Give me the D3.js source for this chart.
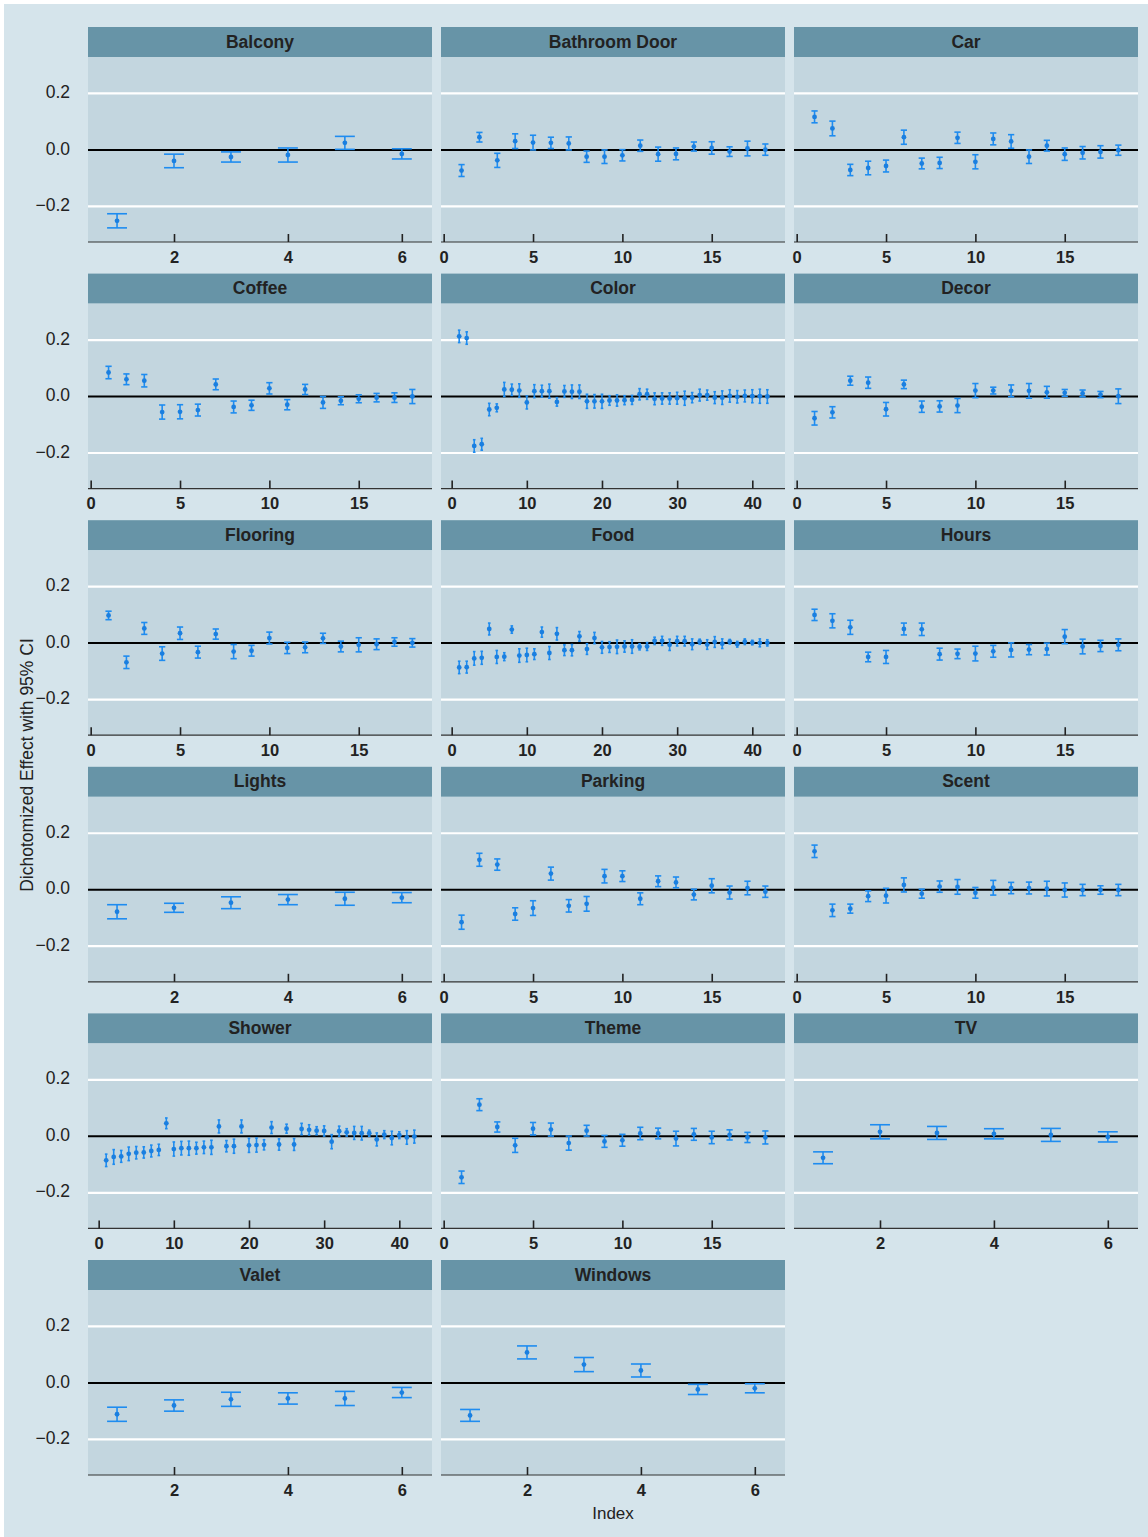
<!DOCTYPE html>
<html>
<head>
<meta charset="utf-8">
<script src="https://cdn.jsdelivr.net/npm/d3@7"></script>
<style>
  body { margin: 0; background: #ffffff; }
  svg { display: block; }
</style>
</head>
<body>
<svg id="chart" width="1148" height="1537"></svg>
<script>
// Dichotomized effect estimates (point) and 95% CI half-widths per attribute
const balconyEffect = [-0.251, -0.039, -0.025, -0.018, 0.025, -0.014];
const balconyHalfCI = [0.025, 0.024, 0.018, 0.025, 0.023, 0.018];

const bathroomEffect = [-0.073, 0.045, -0.037, 0.031, 0.026, 0.025, 0.023, -0.024, -0.024, -0.019, 0.015, -0.015, -0.014, 0.012, 0.007, -0.006, 0.005, 0.001];
const bathroomHalfCI = [0.021, 0.017, 0.025, 0.026, 0.026, 0.020, 0.023, 0.020, 0.024, 0.020, 0.020, 0.025, 0.021, 0.016, 0.022, 0.017, 0.026, 0.020];

const carEffect = [0.117, 0.076, -0.071, -0.064, -0.057, 0.045, -0.048, -0.046, 0.043, -0.042, 0.039, 0.030, -0.024, 0.015, -0.015, -0.010, -0.007, -0.001];
const carHalfCI = [0.021, 0.026, 0.020, 0.024, 0.021, 0.025, 0.019, 0.020, 0.020, 0.025, 0.021, 0.024, 0.024, 0.019, 0.022, 0.022, 0.022, 0.018];

const coffeeEffect = [0.085, 0.061, 0.056, -0.055, -0.054, -0.048, 0.043, -0.037, -0.031, 0.029, -0.029, 0.025, -0.021, -0.015, -0.008, -0.004, -0.004, 0.000];
const coffeeHalfCI = [0.022, 0.019, 0.022, 0.025, 0.025, 0.021, 0.019, 0.021, 0.018, 0.020, 0.018, 0.018, 0.021, 0.014, 0.014, 0.015, 0.017, 0.025];

const colorEffect = [0.213, 0.207, -0.175, -0.169, -0.046, -0.040, 0.025, 0.024, 0.021, -0.021, 0.019, 0.019, 0.019, -0.019, 0.018, 0.017, 0.017, -0.017, -0.017, -0.017, -0.014, -0.014, -0.013, -0.012, 0.008, 0.008, -0.008, -0.007, -0.007, -0.006, -0.006, -0.004, 0.005, 0.005, -0.004, -0.004, 0.002, -0.001, 0.002, 0.001, 0.001, 0.000];
const colorHalfCI = [0.022, 0.022, 0.022, 0.021, 0.022, 0.014, 0.025, 0.020, 0.024, 0.023, 0.023, 0.021, 0.025, 0.015, 0.021, 0.024, 0.024, 0.025, 0.024, 0.025, 0.017, 0.020, 0.016, 0.016, 0.020, 0.018, 0.021, 0.020, 0.020, 0.021, 0.025, 0.018, 0.021, 0.018, 0.021, 0.024, 0.022, 0.022, 0.021, 0.023, 0.025, 0.024];

const decorEffect = [-0.077, -0.056, 0.056, 0.049, -0.045, 0.043, -0.036, -0.035, -0.032, 0.021, 0.021, 0.020, 0.020, 0.015, 0.013, 0.011, 0.007, 0.001];
const decorHalfCI = [0.024, 0.020, 0.016, 0.020, 0.024, 0.015, 0.020, 0.020, 0.025, 0.025, 0.012, 0.021, 0.026, 0.021, 0.012, 0.012, 0.011, 0.026];

const flooringEffect = [0.098, -0.068, 0.052, -0.037, 0.035, -0.032, 0.032, -0.030, -0.027, 0.018, -0.017, -0.015, 0.017, -0.012, -0.006, -0.004, 0.004, 0.001];
const flooringHalfCI = [0.015, 0.022, 0.021, 0.024, 0.022, 0.021, 0.018, 0.025, 0.019, 0.021, 0.020, 0.019, 0.018, 0.019, 0.025, 0.019, 0.015, 0.015];

const foodEffect = [-0.086, -0.085, -0.054, -0.052, 0.050, -0.049, -0.048, 0.048, -0.044, -0.042, -0.039, 0.039, -0.035, 0.033, -0.025, -0.025, 0.024, -0.021, 0.018, -0.015, -0.014, -0.013, -0.012, -0.012, -0.013, -0.012, 0.008, 0.008, -0.006, 0.007, 0.007, -0.004, 0.005, -0.005, 0.004, -0.002, 0.005, -0.004, 0.005, 0.002, 0.001, 0.001];
const foodHalfCI = [0.022, 0.021, 0.024, 0.023, 0.021, 0.023, 0.014, 0.013, 0.024, 0.024, 0.019, 0.018, 0.023, 0.022, 0.019, 0.020, 0.017, 0.019, 0.020, 0.021, 0.019, 0.024, 0.020, 0.024, 0.011, 0.014, 0.013, 0.016, 0.020, 0.017, 0.017, 0.019, 0.009, 0.017, 0.019, 0.017, 0.008, 0.010, 0.010, 0.008, 0.014, 0.011];

const hoursEffect = [0.100, 0.079, 0.056, -0.049, -0.049, 0.050, 0.049, -0.039, -0.038, -0.037, -0.029, -0.024, -0.023, -0.021, 0.023, -0.012, -0.010, -0.006];
const hoursHalfCI = [0.020, 0.025, 0.025, 0.017, 0.023, 0.021, 0.022, 0.021, 0.017, 0.026, 0.021, 0.025, 0.018, 0.021, 0.025, 0.026, 0.020, 0.021];

const lightsEffect = [-0.078, -0.064, -0.046, -0.035, -0.032, -0.028];
const lightsHalfCI = [0.025, 0.016, 0.021, 0.018, 0.023, 0.018];

const parkingEffect = [-0.115, 0.106, 0.089, -0.086, -0.065, 0.057, -0.057, -0.050, 0.048, 0.048, -0.032, 0.030, 0.026, -0.017, 0.014, -0.010, 0.006, -0.007];
const parkingHalfCI = [0.025, 0.023, 0.020, 0.022, 0.026, 0.023, 0.022, 0.026, 0.024, 0.019, 0.021, 0.019, 0.019, 0.019, 0.025, 0.023, 0.024, 0.020];

const scentEffect = [0.136, -0.073, -0.067, -0.023, -0.021, 0.017, -0.014, 0.011, 0.010, -0.011, 0.007, 0.006, 0.006, 0.004, -0.001, -0.001, -0.001, -0.001];
const scentHalfCI = [0.022, 0.022, 0.016, 0.019, 0.026, 0.025, 0.016, 0.020, 0.026, 0.019, 0.026, 0.020, 0.021, 0.026, 0.025, 0.020, 0.015, 0.020];

const showerEffect = [-0.085, -0.073, -0.071, -0.062, -0.058, -0.057, -0.052, -0.048, 0.046, -0.045, -0.042, -0.042, -0.042, -0.039, -0.039, 0.035, -0.035, -0.035, 0.035, -0.032, -0.031, -0.030, 0.031, -0.029, 0.027, -0.029, 0.026, 0.023, 0.020, 0.019, -0.019, 0.018, 0.014, 0.012, 0.011, 0.011, -0.011, 0.006, -0.006, 0.004, -0.004, -0.001];
const showerHalfCI = [0.022, 0.026, 0.021, 0.024, 0.022, 0.020, 0.021, 0.020, 0.019, 0.025, 0.024, 0.025, 0.021, 0.022, 0.025, 0.023, 0.020, 0.025, 0.023, 0.025, 0.025, 0.018, 0.021, 0.020, 0.016, 0.021, 0.020, 0.018, 0.014, 0.018, 0.025, 0.018, 0.013, 0.023, 0.024, 0.011, 0.023, 0.014, 0.024, 0.012, 0.024, 0.023];

const themeEffect = [-0.145, 0.112, 0.033, -0.032, 0.027, 0.024, -0.024, 0.020, -0.018, -0.014, 0.010, 0.010, -0.008, 0.007, -0.004, 0.005, -0.004, -0.004];
const themeHalfCI = [0.022, 0.021, 0.018, 0.025, 0.022, 0.023, 0.025, 0.019, 0.021, 0.021, 0.022, 0.019, 0.026, 0.021, 0.022, 0.018, 0.018, 0.023];

const tvEffect = [-0.076, 0.016, 0.012, 0.009, 0.005, -0.002];
const tvHalfCI = [0.021, 0.025, 0.023, 0.018, 0.023, 0.018];

const valetEffect = [-0.111, -0.080, -0.058, -0.055, -0.055, -0.034];
const valetHalfCI = [0.025, 0.020, 0.025, 0.020, 0.025, 0.018];

const windowsEffect = [-0.115, 0.108, 0.065, 0.044, -0.023, -0.019];
const windowsHalfCI = [0.021, 0.023, 0.025, 0.023, 0.018, 0.016];

// Facet order and tick labels
const facetNames = ["Balcony", "Bathroom Door", "Car", "Coffee", "Color", "Decor", "Flooring", "Food", "Hours", "Lights", "Parking", "Scent", "Shower", "Theme", "TV", "Valet", "Windows"];
const facetEffects = [balconyEffect, bathroomEffect, carEffect, coffeeEffect, colorEffect, decorEffect, flooringEffect, foodEffect, hoursEffect, lightsEffect, parkingEffect, scentEffect, showerEffect, themeEffect, tvEffect, valetEffect, windowsEffect];
const facetHalfCIs = [balconyHalfCI, bathroomHalfCI, carHalfCI, coffeeHalfCI, colorHalfCI, decorHalfCI, flooringHalfCI, foodHalfCI, hoursHalfCI, lightsHalfCI, parkingHalfCI, scentHalfCI, showerHalfCI, themeHalfCI, tvHalfCI, valetHalfCI, windowsHalfCI];

const yTicks = [-0.2, 0.0, 0.2];
const xTicksShort = [2, 4, 6];
const xTicksMedium = [0, 5, 10, 15];
const xTicksLong = [0, 10, 20, 30, 40];

// Layout
const W = 1148, H = 1537;
const colLeft = [88, 441, 794];
const panelW = 344;
const rowTop0 = 27, rowPitch = 246.6;
const stripH = 30, plotH = 185;

const bgColor = "#d5e4eb";
const panelColor = "#c3d6df";
const stripColor = "#6794a7";
const pointColor = "#1e8cf0";
const textColor = "#222222";
const fontFamily = "Liberation Sans, Arial, sans-serif";

const svg = d3.select("#chart");

svg.append("rect")
  .attr("x", 4).attr("y", 4)
  .attr("width", W - 4).attr("height", H - 4)
  .attr("fill", bgColor);

const yScaleFor = (top) => d3.scaleLinear().domain([-0.326, 0.329]).range([top + plotH, top]);

function xDomainFor(n) {
  if (n <= 6) return [0.49, 6.53];
  if (n <= 18) return [-0.15, 19.1];
  return [-1.42, 44.35];
}
function xTicksFor(n) {
  if (n <= 6) return xTicksShort;
  if (n <= 18) return xTicksMedium;
  return xTicksLong;
}

const fmtY = (v) => (v < 0 ? "\u2212" : "") + Math.abs(v).toFixed(1);

facetNames.forEach((name, i) => {
  const col = i % 3, row = Math.floor(i / 3);
  const left = colLeft[col];
  const stripTop = rowTop0 + row * rowPitch;
  const top = stripTop + stripH;
  const effects = facetEffects[i];
  const halfCI = facetHalfCIs[i];
  const n = effects.length;

  const x = d3.scaleLinear().domain(xDomainFor(n)).range([left, left + panelW]);
  const y = yScaleFor(top);

  const g = svg.append("g").attr("class", "facet");

  // strip
  g.append("rect")
    .attr("x", left).attr("y", stripTop)
    .attr("width", panelW).attr("height", stripH)
    .attr("fill", stripColor);
  g.append("text")
    .attr("x", left + panelW / 2).attr("y", stripTop + stripH / 2 + 1)
    .attr("text-anchor", "middle").attr("dominant-baseline", "middle")
    .attr("font-family", fontFamily)
    .attr("font-weight", "bold").attr("font-size", 17.5)
    .attr("fill", textColor)
    .text(name);

  // panel
  g.append("rect")
    .attr("x", left).attr("y", top)
    .attr("width", panelW).attr("height", plotH)
    .attr("fill", panelColor);

  // horizontal gridlines
  g.selectAll("line.grid").data(yTicks.filter(t => t !== 0)).join("line")
    .attr("x1", left).attr("x2", left + panelW)
    .attr("y1", d => y(d)).attr("y2", d => y(d))
    .attr("stroke", "#ffffff").attr("stroke-width", 2.2);

  // zero reference
  g.append("line")
    .attr("x1", left).attr("x2", left + panelW)
    .attr("y1", y(0)).attr("y2", y(0))
    .attr("stroke", "#000000").attr("stroke-width", 2);

  // x axis with inward ticks
  const xAxis = d3.axisBottom(x).tickValues(xTicksFor(n)).tickSize(-8).tickPadding(9).tickFormat(d3.format("d"));
  const ax = g.append("g").attr("transform", `translate(0,${top + plotH})`).call(xAxis);
  ax.select(".domain").attr("stroke", "#333333").attr("stroke-width", 1.2)
    .attr("d", `M${left},0H${left + panelW}`);
  ax.selectAll(".tick line").attr("stroke", "#222222").attr("stroke-width", 1.6);
  ax.selectAll(".tick text")
    .attr("font-family", fontFamily)
    .attr("font-weight", "bold").attr("font-size", 16.5)
    .attr("fill", textColor);

  // y tick labels on the first column only
  if (col === 0) {
    g.selectAll("text.ylab").data(yTicks).join("text")
      .attr("x", 70).attr("y", d => y(d))
      .attr("text-anchor", "end").attr("dominant-baseline", "middle")
      .attr("font-family", fontFamily)
      .attr("font-size", 17.5).attr("fill", textColor)
      .text(fmtY);
  }

  // error bars
  const idx = d3.range(1, n + 1);
  const capHalf = 0.175;
  const bars = g.append("g").attr("stroke", pointColor).attr("stroke-width", 1.6).attr("fill", "none");
  bars.selectAll("line.v").data(idx).join("line")
    .attr("x1", d => x(d)).attr("x2", d => x(d))
    .attr("y1", d => y(effects[d - 1] + halfCI[d - 1]))
    .attr("y2", d => y(effects[d - 1] - halfCI[d - 1]));
  bars.selectAll("line.top").data(idx).join("line")
    .attr("x1", d => x(d - capHalf)).attr("x2", d => x(d + capHalf))
    .attr("y1", d => y(effects[d - 1] + halfCI[d - 1]))
    .attr("y2", d => y(effects[d - 1] + halfCI[d - 1]));
  bars.selectAll("line.bot").data(idx).join("line")
    .attr("x1", d => x(d - capHalf)).attr("x2", d => x(d + capHalf))
    .attr("y1", d => y(effects[d - 1] - halfCI[d - 1]))
    .attr("y2", d => y(effects[d - 1] - halfCI[d - 1]));

  // point estimates
  g.selectAll("circle.pt").data(idx).join("circle")
    .attr("cx", d => x(d)).attr("cy", d => y(effects[d - 1]))
    .attr("r", 2.4).attr("fill", "#1a7fe0");
});

// axis titles
svg.append("text")
  .attr("transform", `translate(33,765) rotate(-90)`)
  .attr("text-anchor", "middle")
  .attr("font-family", fontFamily)
  .attr("font-size", 17.5).attr("fill", textColor)
  .text("Dichotomized Effect with 95% CI");

svg.append("text")
  .attr("x", 613).attr("y", 1519)
  .attr("text-anchor", "middle")
  .attr("font-family", fontFamily)
  .attr("font-size", 17).attr("fill", textColor)
  .text("Index");
</script>
</body>
</html>
